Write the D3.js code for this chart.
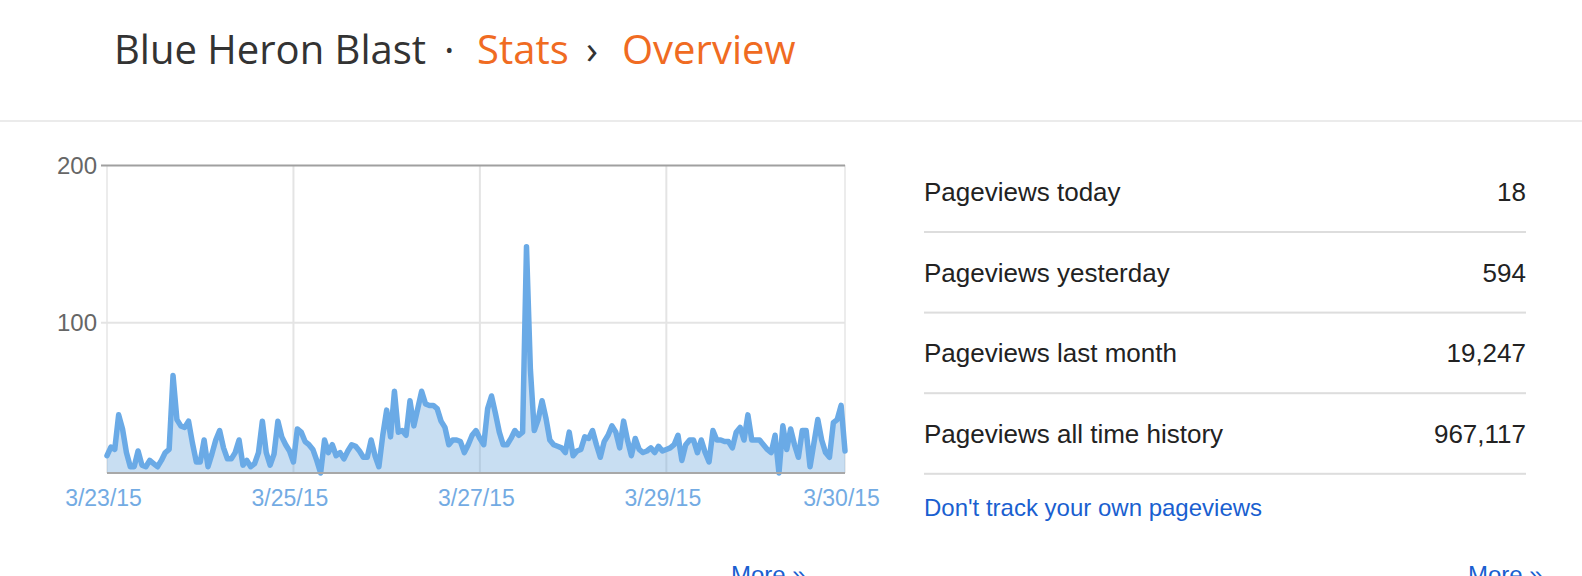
<!DOCTYPE html>
<html>
<head>
<meta charset="utf-8">
<script src="https://cdn.jsdelivr.net/npm/d3@7/dist/d3.min.js"></script>
<style>
  html, body { margin: 0; padding: 0; background: #fff; }
  svg { display: block; }
</style>
</head>
<body>
<svg id="page" width="1582" height="576"></svg>
<script>
// ---------------- DATA ----------------
const startDate = new Date(2015, 2, 23, 0, 0, 0);   // first sample
const stepHours = 1;                                 // one sample per hour
const pageviews = [
  15, 20.5, 19, 41, 32, 17, 8, 8, 18, 9,
  8, 12, 10, 8, 12, 17, 19, 66, 38, 34,
  33, 37, 23, 11, 11, 25, 8, 16, 25, 31,
  20, 13, 13, 17, 25, 9, 12, 8, 10, 17,
  37, 17, 9, 16, 37, 27, 22, 18, 11, 32,
  30, 24, 22, 19, 12, 4, 25, 17, 22, 15,
  17, 13, 18, 22, 21, 18, 14, 14, 25, 15,
  8, 28, 44, 27, 56, 30, 31, 28, 50, 34,
  45, 56, 48, 47, 47, 45, 37, 33, 22, 25,
  25, 24, 17, 22, 28, 31, 26, 22, 45, 53,
  42, 30, 22, 22, 26, 31, 28, 30, 148, 70,
  31, 38, 50, 39, 25, 22, 21, 20, 17, 30,
  15, 18, 19, 27, 26, 31, 22, 14, 24, 28,
  34, 30, 20, 37, 25, 15, 26, 19, 17, 18,
  20, 17, 21, 18, 19, 20, 22, 28, 12, 22,
  25, 25, 17, 25, 17, 11, 31, 25, 25, 24,
  24, 20, 30, 33, 25, 41, 25, 25, 25, 22,
  19, 17, 28, 4, 34, 19, 32, 22, 14, 31,
  31, 8, 23, 38, 25, 17, 14, 36, 38, 47,
  18
];
const yMax = 200;
const yTickValues = [100, 200];
const xTickDates = [
  new Date(2015, 2, 23), new Date(2015, 2, 25), new Date(2015, 2, 27),
  new Date(2015, 2, 29), null /* end of series */
];
const xTickLabels = ["3/23/15", "3/25/15", "3/27/15", "3/29/15", "3/30/15"];

const statLabels = ["Pageviews today", "Pageviews yesterday", "Pageviews last month", "Pageviews all time history"];
const statValues = ["18", "594", "19,247", "967,117"];

const titleParts = ["Blue Heron Blast", "\u00B7", "Stats", "\u203A", "Overview"];
const linkText = "Don't track your own pageviews";
const moreText = "More \u00BB";

// ---------------- LAYOUT ----------------
const svg = d3.select("#page");
const SANS = "'Liberation Sans', Arial, Helvetica, sans-serif";
const ORANGE = "#f06b22";
const LINK = "#1a5fd0";

// header
const titleX = [114, 444, 477, 586, 622];
const titleFill = ["#333333", "#333333", ORANGE, "#333333", ORANGE];
svg.append("g").selectAll("text").data(titleParts).join("text")
  .attr("x", (d, i) => titleX[i])
  .attr("y", 64)
  .attr("font-family", "'Open Sans', sans-serif")
  .attr("font-size", 40)
  .attr("fill", (d, i) => titleFill[i])
  .text(d => d);

svg.append("rect").attr("x", 0).attr("y", 120).attr("width", 1582).attr("height", 2).attr("fill", "#ebebeb");

// ---------------- CHART ----------------
const data = pageviews.map((v, i) => ({ t: new Date(startDate.getTime() + i * stepHours * 3600e3), v }));
const tEnd = data[data.length - 1].t;

const plot = { left: 107, right: 845, top: 165, bottom: 473 };
const x = d3.scaleTime().domain([startDate, tEnd]).range([plot.left, plot.right]);
const yMin = d3.min(pageviews);
const y = d3.scaleLinear().domain([yMin, yMax]).range([plot.bottom, plot.top]);

const chart = svg.append("g");

// vertical grid (interior day lines + edges)
const gridDates = xTickDates.filter(d => d);
chart.append("g").selectAll("line").data(gridDates.slice(1)).join("line")
  .attr("x1", d => x(d)).attr("x2", d => x(d))
  .attr("y1", plot.top).attr("y2", plot.bottom)
  .attr("stroke", "#e4e4e4").attr("stroke-width", 2);
chart.append("line").attr("x1", plot.left).attr("x2", plot.left)
  .attr("y1", plot.top).attr("y2", plot.bottom).attr("stroke", "#ececec").attr("stroke-width", 2);
chart.append("line").attr("x1", plot.right).attr("x2", plot.right)
  .attr("y1", plot.top).attr("y2", plot.bottom).attr("stroke", "#ececec").attr("stroke-width", 2);

// y axis with gridlines
const yAxis = d3.axisLeft(y).tickValues(yTickValues).tickSize(-(plot.right - plot.left) - 6).tickPadding(4);
const yg = chart.append("g").attr("transform", `translate(${plot.left - 6},0)`).call(yAxis);
yg.select(".domain").remove();
yg.selectAll(".tick line")
  .attr("stroke", d => d === yMax ? "#a0a0a0" : "#e4e4e4")
  .attr("stroke-width", 2);
yg.selectAll(".tick text")
  .attr("font-family", SANS).attr("font-size", 24).attr("fill", "#666").attr("dy", "0.36em");

// area + line
const area = d3.area().x(d => x(d.t)).y0(y(yMin)).y1(d => y(d.v));
const line = d3.line().x(d => x(d.t)).y(d => y(d.v));
chart.append("path").datum(data).attr("d", area).attr("fill", "#6fa8dc").attr("fill-opacity", 0.38);
chart.append("path").datum(data).attr("d", line)
  .attr("fill", "none").attr("stroke", "#6aaae6").attr("stroke-width", 5.5)
  .attr("stroke-linejoin", "round").attr("stroke-linecap", "round");

// bottom baseline
chart.append("line").attr("x1", plot.left).attr("x2", plot.right)
  .attr("y1", plot.bottom).attr("y2", plot.bottom)
  .attr("stroke", "#a8a8a8").attr("stroke-width", 2);

// x axis labels
const xTicks = xTickDates.map(d => d || tEnd);
const xAxis = d3.axisBottom(x).tickValues(xTicks).tickSize(0).tickPadding(0)
  .tickFormat((d, i) => xTickLabels[i]);
const xg = chart.append("g").attr("transform", `translate(0,${plot.bottom})`).call(xAxis);
xg.select(".domain").remove();
xg.selectAll(".tick text")
  .attr("font-family", SANS).attr("font-size", 23).attr("fill", "#73abe3")
  .attr("y", 33).attr("dy", 0).attr("dx", -4);

// ---------------- STATS TABLE ----------------
const tbl = { left: 924, right: 1526, firstBaseline: 201, rowH: 80.6, firstRule: 232 };
const stats = svg.append("g");
const rows = stats.selectAll("g.row").data(statLabels).join("g").attr("class", "row");
rows.append("text")
  .attr("x", tbl.left).attr("y", (d, i) => tbl.firstBaseline + i * tbl.rowH)
  .attr("font-family", SANS).attr("font-size", 26).attr("fill", "#222")
  .text(d => d);
rows.append("text")
  .attr("x", tbl.right).attr("y", (d, i) => tbl.firstBaseline + i * tbl.rowH)
  .attr("text-anchor", "end")
  .attr("font-family", SANS).attr("font-size", 26).attr("fill", "#222")
  .text((d, i) => statValues[i]);
rows.append("rect")
  .attr("x", tbl.left).attr("width", tbl.right - tbl.left)
  .attr("y", (d, i) => tbl.firstRule + i * tbl.rowH - 1).attr("height", 2)
  .attr("fill", "#dddddd");

svg.append("text").attr("x", tbl.left).attr("y", 516)
  .attr("font-family", SANS).attr("font-size", 24).attr("fill", LINK).text(linkText);

// "More »" links sit at the bottom edge, partly cut off as in the reference
svg.append("text").attr("x", 731).attr("y", 583)
  .attr("font-family", SANS).attr("font-size", 24).attr("fill", LINK).text(moreText);
svg.append("text").attr("x", 1468).attr("y", 583)
  .attr("font-family", SANS).attr("font-size", 24).attr("fill", LINK).text(moreText);
</script>
</body>
</html>
